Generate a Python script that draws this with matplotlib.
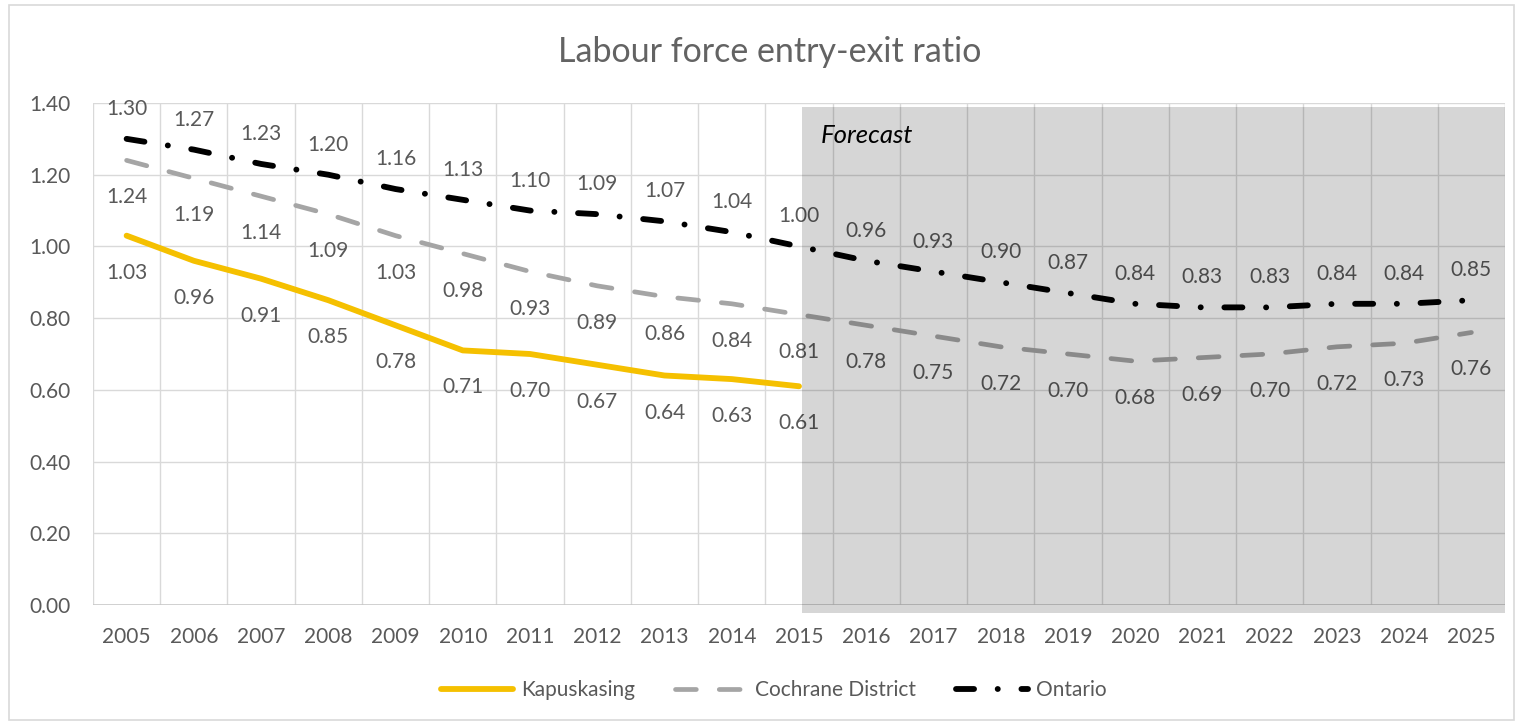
import matplotlib.pyplot as plt
from matplotlib.patches import Rectangle

# entry-exit ratio by year (forecast from 2016 onwards)
years = list(range(2005, 2026))
kapuskasing = [1.03, 0.96, 0.91, 0.85, 0.78, 0.71, 0.70, 0.67, 0.64, 0.63, 0.61]
cochrane = [1.24, 1.19, 1.14, 1.09, 1.03, 0.98, 0.93, 0.89, 0.86, 0.84, 0.81,
            0.78, 0.75, 0.72, 0.70, 0.68, 0.69, 0.70, 0.72, 0.73, 0.76]
ontario = [1.30, 1.27, 1.23, 1.20, 1.16, 1.13, 1.10, 1.09, 1.07, 1.04, 1.00,
           0.96, 0.93, 0.90, 0.87, 0.84, 0.83, 0.83, 0.84, 0.84, 0.85]
yticks = [0.0, 0.2, 0.4, 0.6, 0.8, 1.0, 1.2, 1.4]

plt.rcParams['font.family'] = ['Lato', 'DejaVu Sans']
plt.rcParams['lines.scale_dashes'] = False

W, H = 1516, 724
grey_text = '#595959'
grid_col = '#D9D9D9'

fig = plt.figure(figsize=(W / 100, H / 100), dpi=100)
ax = fig.add_axes([93 / W, 1 - 605 / H, (1505 - 93) / W, (605 - 103) / H])

x_all = list(range(len(years)))
x_hist = x_all[:len(kapuskasing)]

# lines
ax.plot(x_hist, kapuskasing, color='#F5C000', lw=4.2, solid_capstyle='round',
        solid_joinstyle='round', label='Kapuskasing', zorder=3)
ax.plot(x_all, cochrane, color='#A5A5A5', lw=3.4, dashes=(15, 16.5),
        dash_capstyle='round', label='Cochrane District', zorder=3)
ax.plot(x_all, ontario, color='black', lw=4.2, dashes=(13, 17, 0.1, 17),
        dash_capstyle='round', label='Ontario', zorder=3)

# value labels
for xi, v in zip(x_all, ontario):
    ax.annotate(f'{v:.2f}', (xi, v), xytext=(0, 30), textcoords='offset pixels',
                ha='center', va='center', fontsize=15, color=grey_text)
for xi, v in zip(x_all, cochrane):
    ax.annotate(f'{v:.2f}', (xi, v), xytext=(0, -37), textcoords='offset pixels',
                ha='center', va='center', fontsize=15, color=grey_text)
for xi, v in zip(x_hist, kapuskasing):
    ax.annotate(f'{v:.2f}', (xi, v), xytext=(0, -37), textcoords='offset pixels',
                ha='center', va='center', fontsize=15, color=grey_text)

# axes and grid
ax.set_xlim(-0.5, len(years) - 0.5)
ax.set_ylim(0, 1.4)
ax.set_yticks(yticks)
ax.set_yticklabels([f'{t:.2f}' for t in yticks])
ax.set_xticks(x_all)
ax.set_xticklabels([str(y) for y in years])
for b in range(len(years) + 1):
    ax.axvline(b - 0.5, color=grid_col, lw=1, zorder=0)
for t in yticks[1:]:
    ax.axhline(t, color=grid_col, lw=1, zorder=0)
ax.axhline(0, color='#C8C8C8', lw=1.2, zorder=1)
for s in ax.spines.values():
    s.set_visible(False)
ax.tick_params(axis='both', length=0, labelsize=15, labelcolor=grey_text)
ax.tick_params(axis='y', pad=16)
ax.tick_params(axis='x', pad=16)

# forecast shading
ax.add_patch(Rectangle((10.05, -0.022), 20.5 - 10.05, 1.39 + 0.022,
                       facecolor='black', alpha=0.16, edgecolor='none',
                       clip_on=False, zorder=5))
ax.text(10.33, 1.31, 'Forecast', fontsize=18.5, style='italic', color='black',
        ha='left', va='center', zorder=6)

fig.text(770 / W, 1 - 52 / H, 'Labour force entry-exit ratio', fontsize=24.5,
         color='#636363', ha='center', va='center')

fig.legend(loc='center', bbox_to_anchor=(774 / W, 1 - 690 / H), ncol=3,
           frameon=False, fontsize=15, handlelength=3.45, handletextpad=0.4,
           columnspacing=1.9, labelcolor=grey_text)

# chart border
fig.patches.append(Rectangle((9 / W, 1 - 720 / H), (1514 - 9) / W, (720 - 5) / H,
                             transform=fig.transFigure, fill=False,
                             edgecolor=grid_col, lw=1.2))

fig.savefig('out.png', dpi=100)
